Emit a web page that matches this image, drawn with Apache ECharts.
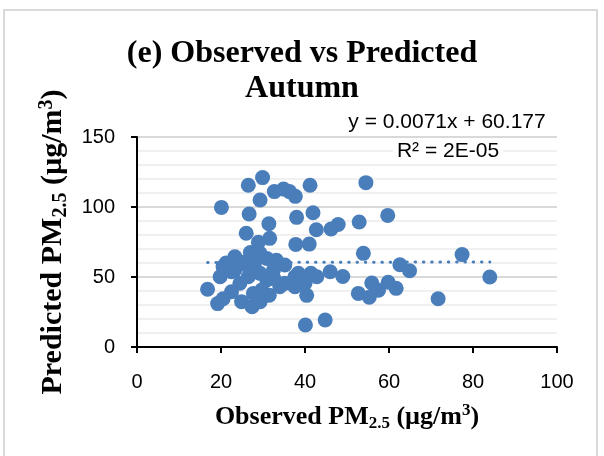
<!DOCTYPE html>
<html><head><meta charset="utf-8">
<script src="https://cdn.jsdelivr.net/npm/echarts@6/dist/echarts.min.js"></script>
<style>html,body{margin:0;padding:0;background:#fff}#c{width:604px;height:456px}</style>
</head><body><div id="c"></div>
<script>
// Observed (x) and predicted (y) PM2.5
const observed = [29.9,26.5,29.3,32.7,34.9,36.3,37.7,41.2,20.1,26.7,31.4,38,41.9,42.7,46.2,47.9,26,31.6,28.9,37.8,41,27,23.3,30.9,54.5,59.7,52.9,53.9,77.4,62.6,64.9,84,55.9,52.7,55.3,57.5,59.8,61.7,71.7,40.1,44.8,49,46,42.8,41.4,40.4,16.8,19.8,19.2,20.5,24.9,27.4,30,21.2,20.5,23.3,26.5,29.3,24.5,22.5,27.7,30.9,29.3,35.2,38.4,32.6,35.2,37.6,37.6,31.5,26.5,22.5,25,29.7,29.3,40,28,32.5,33.2,38.9,34];
const predicted = [121,115.5,105,111,112.8,111,107.6,115.5,99.7,95,88,92.6,95.9,83.8,84.3,87.5,81.2,77.6,74.8,73.3,73.5,67.5,64.5,63.3,117.4,94,89.3,66.9,66,58.8,54.5,50,45.7,38.3,35.5,40.5,46.3,41.9,34.5,15.7,19.3,50.4,53.8,50.2,52.6,36.9,41.3,50.2,31,34.5,32.4,28.8,35.9,60,57.4,55,57.4,66.9,45.5,39.5,38.3,47.9,52.6,58.6,52.6,49,45.5,43.1,50.2,37,50.2,53.8,60.5,40.7,32.4,45.5,60,55,62,47,43];
// Linear trendline shown on the chart
const trendSlope = 0.0071;
const trendIntercept = 60.177;
const equationText = 'y = 0.0071x + 60.177';
const r2Text = 'R² = 2E-05';
const xMin = 0, xMax = 100, xInterval = 20;
const yMin = 0, yMax = 150, yInterval = 50;

const points = observed.map((v, i) => [v, predicted[i]]);
const tx0 = Math.min(...observed), tx1 = Math.max(...observed);
const trend = [[tx0, trendSlope * tx0 + trendIntercept], [tx1, trendSlope * tx1 + trendIntercept]];

const blue = '#4A7EBB';
const serif = '"Liberation Serif", "Times New Roman", serif';
const sans = '"Liberation Sans", Arial, sans-serif';
function nameRich(fs, lh) {
  const small = Math.round(fs * 0.65);
  return {
    b: {fontFamily: serif, fontWeight: 'bold', fontSize: fs, lineHeight: lh, color: '#000'},
    s: {fontFamily: serif, fontWeight: 'bold', fontSize: small, lineHeight: small, verticalAlign: 'bottom', color: '#000'},
    p: {fontFamily: serif, fontWeight: 'bold', fontSize: small, lineHeight: small, verticalAlign: 'top', color: '#000'}
  };
}

const chart = echarts.init(document.getElementById('c'), null, {renderer: 'canvas'});
chart.setOption({
  animation: false,
  backgroundColor: '#fff',
  title: {
    text: '(e) Observed vs Predicted\nAutumn',
    left: 'center', top: 31,
    textStyle: {fontFamily: serif, fontWeight: 'bold', fontSize: 32, lineHeight: 35, color: '#000'}
  },
  grid: {left: 137, right: 47, top: 137, bottom: 109},
  xAxis: {
    type: 'value', min: xMin, max: xMax, interval: xInterval,
    axisLine: {show: true, lineStyle: {color: '#000', width: 2}},
    axisTick: {show: true, length: 6, lineStyle: {color: '#000', width: 2}},
    axisLabel: {margin: 25, fontFamily: sans, fontSize: 20, color: '#000'},
    splitLine: {show: false},
    name: '{b|Observed PM}{s|2.5}{b| (µg/m}{p|3}{b|)}',
    nameLocation: 'middle', nameGap: 55,
    nameTextStyle: {rich: nameRich(26, 30)}
  },
  yAxis: {
    type: 'value', min: yMin, max: yMax, interval: yInterval,
    axisLine: {show: true, lineStyle: {color: '#000', width: 2}},
    axisTick: {show: true, length: 6, lineStyle: {color: '#000', width: 2}},
    axisLabel: {margin: 22, fontFamily: sans, fontSize: 20, color: '#000'},
    splitLine: {show: true, lineStyle: {color: '#d9d9d9', width: 2}},
    minorTick: {show: false, splitNumber: 5},
    minorSplitLine: {show: true, lineStyle: {color: '#f0f0f0', width: 2}},
    name: '{b|Predicted PM}{s|2.5}{b| (µg/m}{p|3}{b|)}',
    nameLocation: 'middle', nameGap: 58, nameRotate: 90,
    nameTextStyle: {rich: nameRich(30, 34)}
  },
  series: [
    {
      type: 'scatter', data: points, symbolSize: 15,
      itemStyle: {color: blue, opacity: 1}, z: 3
    },
    {
      type: 'line', data: trend, symbol: 'none', z: 4,
      lineStyle: {color: blue, width: 3, type: [0.5, 7.8], cap: 'round'}
    }
  ],
  graphic: [
    {type: 'rect', shape: {x: 4, y: 10, width: 593, height: 470}, style: {fill: 'none', stroke: '#d9d9d9', lineWidth: 2}, silent: true},
    {type: 'text', x: 447, y: 122, z: 10, style: {text: equationText, fontFamily: sans, fontSize: 21, fill: '#000', align: 'center', verticalAlign: 'middle'}},
    {type: 'text', x: 448, y: 151, z: 10, style: {text: r2Text, fontFamily: sans, fontSize: 21, fill: '#000', align: 'center', verticalAlign: 'middle', backgroundColor: '#fff', padding: [1, 4]}}
  ]
});
</script></body></html>
